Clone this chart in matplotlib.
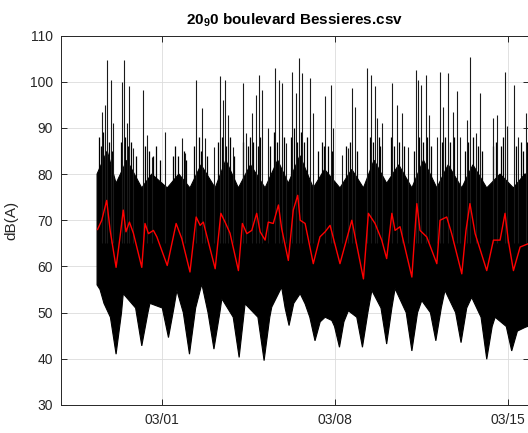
import numpy as np
import matplotlib
matplotlib.use("Agg")
import matplotlib.pyplot as plt
import matplotlib.dates as mdates

plt.rcParams["font.family"] = ["Liberation Sans", "DejaVu Sans"]
plt.rcParams["mathtext.fontset"] = "custom"
plt.rcParams["mathtext.rm"] = "Liberation Sans"
plt.rcParams["mathtext.bf"] = "Liberation Sans:bold"

# days relative to 03/01 00:00
red_days = [-2.59, -2.42, -2.22, -2.08, -1.84, -1.68, -1.55, -1.44, -1.30, -1.14,
            -0.80, -0.67, -0.53, -0.33, -0.19, 0.23, 0.59, 0.82, 1.15, 1.40,
            1.56, 1.69, 2.17, 2.40, 2.57, 2.77, 3.11, 3.27, 3.45, 3.65,
            3.85, 3.99, 4.19, 4.32, 4.52, 4.73, 4.86, 5.13, 5.33, 5.51,
            5.61, 5.81, 6.14, 6.41, 6.62, 6.82, 7.22, 7.70, 8.17, 8.37,
            8.64, 8.91, 9.11, 9.32, 9.45, 9.65, 10.13, 10.33, 10.46, 10.73,
            11.14, 11.27, 11.54, 11.74, 12.15, 12.32, 12.48, 12.69, 13.16, 13.43,
            13.70, 13.90, 14.03, 14.24, 14.51, 14.83, 15.11]
red_db = [68, 70, 74.3, 67.8, 59.8, 66.4, 72.2, 67.5, 69.6, 67.2,
          59.8, 69.3, 67.1, 67.8, 66.4, 60.2, 69.3, 66.0, 58.8, 70.7,
          68.9, 69.6, 59.5, 71.5, 69.6, 67.2, 59.1, 69.3, 67.1, 67.8,
          71.5, 67.5, 65.7, 69.6, 69.3, 73.3, 68.2, 61.3, 72.2, 75.4,
          70, 69.3, 60.6, 66.4, 67.5, 68.9, 60.6, 70, 57.3, 71.5,
          69.3, 65.7, 61.7, 71.5, 67.8, 68.6, 57.7, 73.6, 67.8, 66.4,
          60.6, 70, 70.7, 67.1, 58.4, 67.8, 73.6, 67.1, 59.1, 65.7,
          65.7, 71.5, 65.7, 59.1, 64.2, 64.9, 65]

# lower edge of the dense band (night valleys and their shoulders)
low_days = [-2.61, -2.49, -2.33, -2.07, -1.84, -1.62, -1.55, -1.05, -0.80, -0.55,
            -0.47, 0.03, 0.28, 0.50, 0.62, 0.88, 1.13, 1.38, 1.63, 1.88,
            2.12, 2.36, 2.44, 2.90, 3.14, 3.30, 3.38, 3.90, 4.15, 4.38,
            4.46, 4.86, 5.00, 5.16, 5.35, 5.61, 5.81, 6.00, 6.21, 6.42,
            6.62, 6.89, 7.00, 7.20, 7.38, 7.56, 7.90, 8.13, 8.35, 8.51,
            8.88, 9.11, 9.32, 9.45, 9.90, 10.13, 10.36, 10.53, 10.88, 11.10,
            11.32, 11.47, 11.90, 12.12, 12.35, 12.55, 12.93, 13.16, 13.38, 13.50,
            13.95, 14.17, 14.40, 14.71, 15.32]
low_db = [56, 55, 52, 49, 41, 50, 54.1, 51, 42.8, 50,
          52, 51, 44.6, 51, 54.8, 50, 41, 51, 56.2, 50,
          42.1, 50, 53, 49, 40.3, 48, 51.9, 49, 39.6, 49,
          51.2, 55.5, 51, 47.2, 52, 54.1, 51.9, 49, 43.9, 48,
          49, 48.3, 47, 42.5, 48, 50.4, 49, 42.5, 50, 54.8,
          51, 43.2, 51, 55.2, 50, 41.7, 50, 52.6, 50, 43.9,
          51, 54.8, 50, 43.5, 51, 53.3, 49, 39.9, 47, 49,
          47, 41.7, 46, 46.8, 48]

top_days = [-2.61, -2.2, -1.84, -1.4, -0.80, -0.4, 0.23, 0.7, 1.15, 1.6,
            2.17, 2.6, 3.11, 3.6, 4.19, 4.7, 5.13, 5.6, 6.14, 6.6,
            7.22, 7.7, 8.17, 8.6, 9.11, 9.6, 10.13, 10.6, 11.14, 11.6,
            12.15, 12.6, 13.16, 13.7, 14.24, 14.7, 15.32]
top_db = [80, 85, 78, 83, 77, 80, 77, 80, 77, 82,
          77, 83, 77, 82, 77, 83, 78, 84, 77, 81,
          77, 81, 77, 83, 78, 82, 77, 83, 77, 82,
          77, 82, 77, 80, 77, 80, 80]

# tall isolated peaks
spike_days = [-2.42, -2.29, -2.19, -2.06, -1.97, -1.59, -1.51, -1.41, -1.30, -1.14,
              -0.74, -0.57, -0.40, 0.14, 0.82, 0.95, 1.40, 1.63, 1.76, 2.14,
              2.37, 2.48, 2.58, 2.70, 2.88, 3.31, 3.41, 3.65, 3.82, 3.95,
              4.05, 4.32, 4.59, 4.76, 4.86, 5.04, 5.27, 5.43, 5.56, 5.70,
              6.00, 6.14, 6.62, 6.85, 6.95, 7.29, 7.56, 7.72, 7.83, 8.30,
              8.47, 8.64, 8.71, 8.94, 9.34, 9.54, 9.72, 9.96, 10.29, 10.39,
              10.50, 10.69, 10.83, 11.14, 11.27, 11.40, 11.61, 11.78, 11.97, 12.08,
              12.38, 12.48, 12.72, 12.89, 13.43, 13.59, 13.90, 13.99, 14.27, 14.44,
              14.74]
spike_db = [93.5, 95, 104.8, 100.4, 91, 100, 104.6, 91, 99, 85.7,
            98.3, 88.5, 83.8, 89.2, 87.8, 84.6, 100.4, 94.3, 87.8, 85.9,
            101.2, 96.1, 100.4, 92.8, 85.9, 99.7, 88.8, 93.2, 97.2, 101.5,
            98.3, 89.9, 103, 100.4, 99.7, 86.7, 102.2, 97.5, 105.2, 101.9,
            100.8, 93.2, 96.8, 99.3, 89.9, 84.1, 85.6, 98.6, 94.6, 103,
            101.5, 99, 92.1, 91, 99.7, 95, 93.2, 85.9, 102.6, 100.4,
            99.3, 101.5, 92.8, 88.1, 102.2, 94.6, 101.9, 93.5, 97.9, 88.1,
            91.7, 105.4, 88.8, 97.5, 92.1, 92.8, 102.2, 90.3, 99.3, 88.1,
            93.2]

# shorter peaks just above the dense band
mid_days = [-2.55, -2.47, -2.35, -2.13, -2.02, -1.65, -1.47, -1.36, -1.22, -1.05,
            -0.68, -0.50, -0.33, -0.22, -0.08, 0.45, 0.55, 0.68, 0.90, 0.99,
            1.33, 1.50, 1.58, 1.85, 2.30, 2.45, 2.62, 2.78, 2.95, 3.28,
            3.50, 3.58, 3.72, 3.90, 4.00, 4.40, 4.55, 4.68, 4.95, 5.22,
            5.38, 5.48, 5.65, 5.78, 5.88, 6.35, 6.48, 6.58, 6.75, 6.90,
            7.45, 7.62, 7.90, 8.42, 8.55, 8.78, 8.85, 9.28, 9.41, 9.60,
            9.80, 10.20, 10.42, 10.58, 10.76, 10.90, 11.33, 11.48, 11.68, 11.85,
            12.28, 12.42, 12.60, 12.80, 12.95, 13.40, 13.52, 13.75, 13.82, 14.35,
            14.55, 14.62, 14.80]
mid_db = [88, 86, 89, 87, 85, 87, 88, 86, 87, 84,
          86, 85, 84, 86, 83, 84, 86, 84, 85, 83,
          86, 88, 85, 84, 87, 88, 86, 88, 84, 87,
          86, 88, 87, 86, 88, 86, 89, 87, 88, 88,
          90, 87, 89, 87, 88, 85, 87, 86, 86, 85,
          86, 87, 85, 88, 87, 88, 86, 88, 86, 87,
          86, 85, 88, 87, 88, 86, 87, 88, 87, 88,
          85, 87, 88, 86, 85, 86, 87, 86, 88, 86,
          87, 85, 87]

base = mdates.date2num(np.datetime64("2018-03-01T00:00"))
tick_dates = ["2018-03-01", "2018-03-08", "2018-03-15"]

fig = plt.figure(figsize=(5.28, 4.33), dpi=100)
ax = fig.add_axes([0.1155, 0.0647, 0.8864, 0.8533])

top_x = base + np.array(top_days)
low_x = base + np.array(low_days)
ax.fill(np.concatenate([top_x, low_x[::-1]]),
        np.concatenate([top_db, low_db[::-1]]),
        color="black", lw=0.8, zorder=2)
ax.vlines(base + np.array(mid_days), 72, mid_db, color="black", lw=0.9, zorder=2)
ax.vlines(base + np.array(spike_days), 65, spike_db, color="#1a1a1a", lw=0.8, zorder=2)
ax.plot(base + np.array(red_days), red_db, color="red", lw=1.0, zorder=3)

ax.set_yticks(range(30, 111, 10))
ax.set_xticks([mdates.date2num(np.datetime64(d)) for d in tick_dates])
ax.xaxis.set_major_formatter(mdates.DateFormatter("%m/%d"))
ax.set_ylim(30, 110)
ax.set_xlim(base - 4.07, base + 14.87)

ax.grid(True, color="#dcdcdc", lw=0.6, zorder=0)
ax.set_axisbelow(True)
for s in ax.spines.values():
    s.set_color("#262626")
    s.set_linewidth(0.7)
ax.tick_params(direction="in", length=4, width=0.7, color="#262626",
               labelcolor="#262626", labelsize=10, top=True, right=True, pad=6)
ax.set_ylabel("dB(A)", fontsize=11, color="#262626", labelpad=8)
ax.set_title(r"20$_\mathbf{9}$0 boulevard Bessieres.csv", fontsize=11,
             fontweight="bold", pad=8)

fig.savefig("out.png", dpi=100)
